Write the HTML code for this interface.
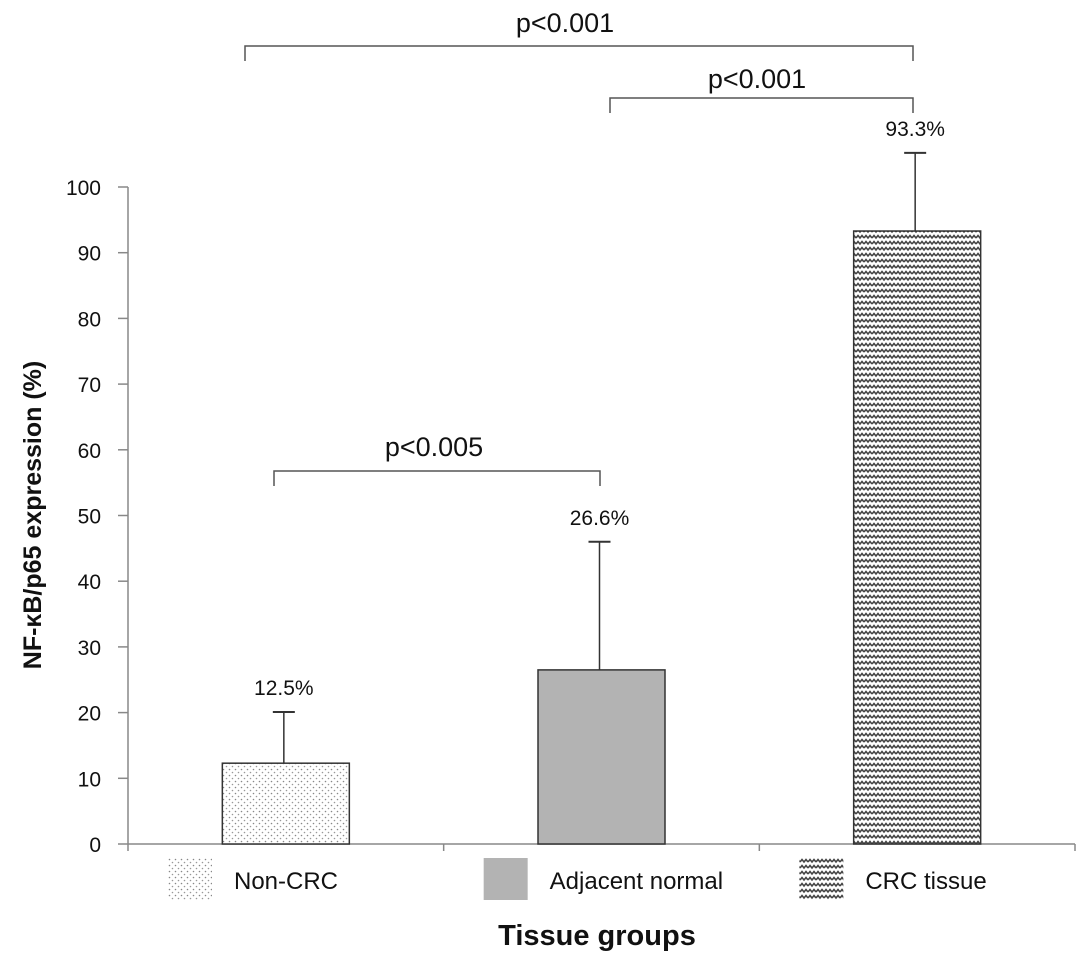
<!DOCTYPE html>
<html><head><meta charset="utf-8"><style>
body{margin:0;background:#fff;}
svg text{font-family:"Liberation Sans",Arial,sans-serif;}
</style></head><body>
<svg id="chart" width="1087" height="966" xmlns="http://www.w3.org/2000/svg">
<defs>
<pattern id="dots" width="6" height="6" patternUnits="userSpaceOnUse"><rect width="6" height="6" fill="#fff"/><circle cx="1.5" cy="1.5" r="0.8" fill="#888"/><circle cx="4.5" cy="4.5" r="0.8" fill="#999"/></pattern>
<pattern id="zig" width="8" height="6" patternUnits="userSpaceOnUse"><rect width="8" height="6" fill="#fff"/><path d="M0 4 L2 1.5 L4 4 L6 1.5 L8 4" stroke="#444" stroke-width="1.6" fill="none"/></pattern>
</defs>
</svg>
<script>
const categories=["Non-CRC","Adjacent normal","CRC tissue"];
const values=[12.3,26.5,93.3];
const errors=[20.1,46,105.2];
const valueLabels=["12.5%","26.6%","93.3%"];
const yTicks=[0,10,20,30,40,50,60,70,80,90,100];
const fills=["url(#dots)","#b3b3b3","url(#zig)"];
const NS="http://www.w3.org/2000/svg";
const svg=document.getElementById('chart');
const x0=128,x1=1075,y0=844,y100=187;
const y=v=>y0-(y0-y100)*v/100;
const band=(x1-x0)/categories.length;
const cx=i=>x0+band*(i+0.5);
function el(t,a,p){const e=document.createElementNS(NS,t);for(const k in a)e.setAttribute(k,a[k]);(p||svg).appendChild(e);return e;}
let ax=el('line',{x1:x0,y1:y0,x2:x1,y2:y0,stroke:'#888','stroke-width':1.5});


let ay=el('line',{x1:x0,y1:y100,x2:x0,y2:y0,stroke:'#888','stroke-width':1.5});


for(let i=0;i<=categories.length;i++){el('line',{x1:x0+band*i,y1:y0,x2:x0+band*i,y2:y0+7,stroke:'#888','stroke-width':1.5});}
yTicks.forEach(t=>{
 el('line',{x1:x0-10,y1:y(t),x2:x0,y2:y(t),stroke:'#888','stroke-width':1.5});
 const tx=el('text',{x:x0-27,y:y(t)+8,'text-anchor':'end','font-size':21,fill:'#111'});
 tx.textContent=t;
 
 
});
const bw=127;
categories.forEach((c,i)=>{
 const ex=cx(i)-2;
 const eb=el('line',{x1:ex,y1:y(values[i]),x2:ex,y2:y(errors[i]),stroke:'#333','stroke-width':1.5});
 
 
 el('line',{x1:ex-11,y1:y(errors[i]),x2:ex+11,y2:y(errors[i]),stroke:'#333','stroke-width':2});
 const r=el('rect',{x:cx(i)-bw/2,y:y(values[i]),width:bw,height:y0-y(values[i]),fill:fills[i],stroke:'#333','stroke-width':1.5});
 
 
 const vl=el('text',{x:ex,y:y(errors[i])-17,'text-anchor':'middle','font-size':21,fill:'#111'});
 vl.textContent=valueLabels[i];
 
 
 const lx=x0+band*i+40;
 const sw=el('rect',{x:lx,y:858,width:44,height:42,fill:fills[i]});
 
 
 const lt=el('text',{x:lx+66,y:889,'font-size':24,fill:'#111'});
 lt.textContent=c;
 
 
});
const brackets=[[245,913,46,"p<0.001",565,32],[610,913,98,"p<0.001",757,88],[274,600,471,"p<0.005",434,456]];
brackets.forEach(b=>{
 const p=el('path',{d:`M${b[0]} ${b[2]+15} V${b[2]} H${b[1]} V${b[2]+15}`,stroke:'#555','stroke-width':1.5,fill:'none'});
 
 
 const t=el('text',{x:b[4],y:b[5],'text-anchor':'middle','font-size':27,fill:'#111'});
 t.textContent=b[3];
 
 
});
const yt=el('text',{x:0,y:0,'text-anchor':'middle','font-size':25,'font-weight':'bold',fill:'#111',transform:'translate(41,515) rotate(-90)'});
yt.textContent='NF-κB/p65 expression (%)';


const xt=el('text',{x:597,y:945,'text-anchor':'middle','font-size':29,'font-weight':'bold',fill:'#111'});
xt.textContent='Tissue groups';


</script>
</body></html>
